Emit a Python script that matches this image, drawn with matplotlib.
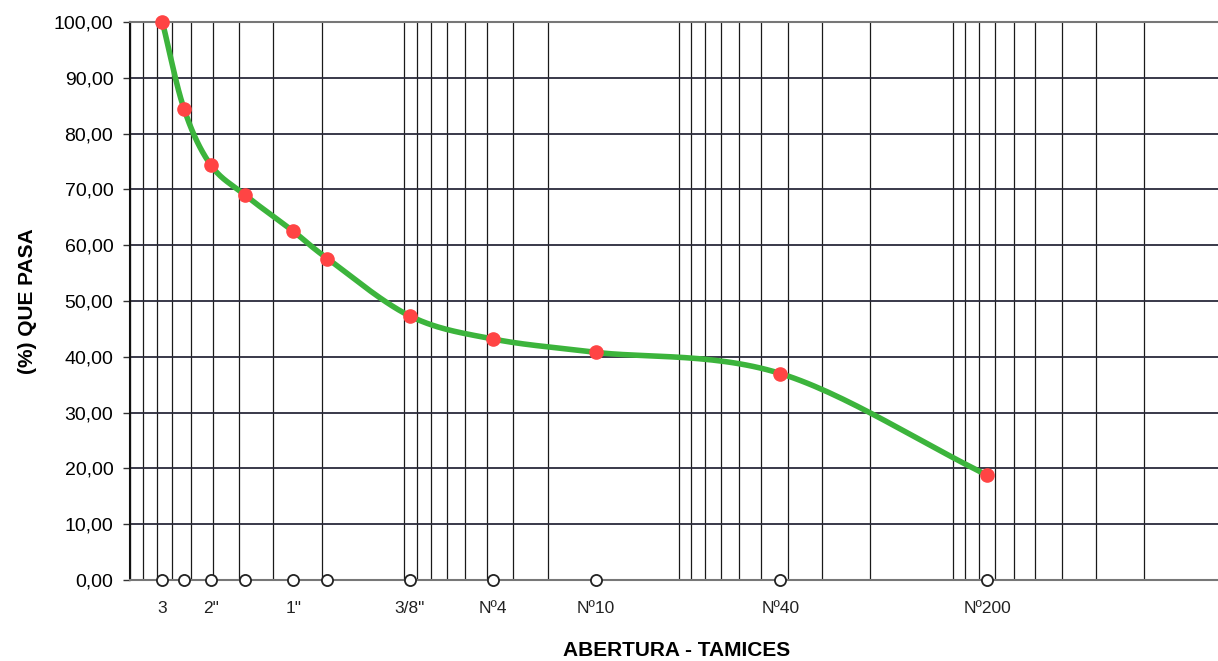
import numpy as np
import matplotlib
matplotlib.use('Agg')
import matplotlib.pyplot as plt
from matplotlib.ticker import FixedLocator, LogLocator, NullFormatter, FuncFormatter

plt.rcParams['font.family'] = ['Liberation Sans', 'DejaVu Sans']

# sieve openings (mm) and % passing
sieve_mm = [76.2, 63.5, 50.8, 38.1, 25.4, 19.05, 9.525, 4.76, 2.0, 0.425, 0.075]
sieve_labels = ['3', '', '2"', '', '1"', '', '3/8"', 'Nº4', 'Nº10', 'Nº40', 'Nº200']
pct_pasa = [100.0, 84.4, 74.4, 69.0, 62.5, 57.6, 47.3, 43.2, 40.8, 37.0, 18.8]

y_ticks = [0, 10, 20, 30, 40, 50, 60, 70, 80, 90, 100]


def smooth(xs, ys, n=30):
    # catmull-rom like excel's smoothed line, done in log-x space
    lx = np.log10(xs)
    ys = np.asarray(ys, float)
    px = np.concatenate([[2 * lx[0] - lx[1]], lx, [2 * lx[-1] - lx[-2]]])
    py = np.concatenate([[2 * ys[0] - ys[1]], ys, [2 * ys[-1] - ys[-2]]])
    outx, outy = [], []
    t = np.linspace(0, 1, n)
    for i in range(1, len(px) - 2):
        for p, out in ((px, outx), (py, outy)):
            p0, p1, p2, p3 = p[i - 1], p[i], p[i + 1], p[i + 2]
            out.extend(0.5 * (2 * p1 + (-p0 + p2) * t
                              + (2 * p0 - 5 * p1 + 4 * p2 - p3) * t ** 2
                              + (-p0 + 3 * p1 - 3 * p2 + p3) * t ** 3))
    return 10 ** np.array(outx), np.array(outy)


fig = plt.figure(figsize=(12.18, 6.61), dpi=100)
ax = fig.add_axes([130 / 1218, 1 - 580 / 661, 1097 / 1218, 558 / 661])

ax.set_xscale('log')
ax.set_xlim(100, 0.01)
ax.set_ylim(0, 100)

# log grid (vertical) and 10% grid (horizontal)
ax.xaxis.set_major_locator(FixedLocator(sieve_mm))
ax.xaxis.set_minor_locator(LogLocator(base=10, subs=np.arange(1, 10), numticks=50))
ax.xaxis.set_minor_formatter(NullFormatter())
ax.grid(True, which='minor', axis='x', color='#1a1a1a', lw=0.9)
ax.set_yticks(y_ticks)
ax.grid(True, which='major', axis='y', color='#2a2a3a', lw=1.3)
ax.set_axisbelow(True)

ax.set_xticks(sieve_mm)
ax.set_xticklabels(sieve_labels, fontsize=12.5, color='#222222')
ax.tick_params(axis='x', which='both', length=0, pad=15)
ax.yaxis.set_major_formatter(FuncFormatter(lambda v, p: ('%.2f' % v).replace('.', ',')))
ax.tick_params(axis='y', labelsize=14, length=5, width=1, pad=7, color='#333333')

for s in ['top', 'bottom']:
    ax.spines[s].set_color('#777777')
    ax.spines[s].set_linewidth(1.5)
ax.spines['left'].set_color('#111111')
ax.spines['left'].set_linewidth(1.5)
ax.spines['right'].set_visible(False)

sx, sy = smooth(sieve_mm, pct_pasa)
ax.plot(sx, sy, color='#3cb43c', lw=4, zorder=3)
ax.plot(sieve_mm, pct_pasa, 'o', color='#ff4444', ms=9.5, mec='#ff4444', zorder=4, clip_on=False)
ax.plot(sieve_mm, [0] * len(sieve_mm), 'o', mfc='white', mec='#222222', mew=1.3, ms=8,
        zorder=5, clip_on=False)

ax.set_ylabel('(%) QUE PASA', fontsize=15, fontweight='bold', labelpad=12)
fig.text(677 / 1218, 1 - 650 / 661, 'ABERTURA - TAMICES', fontsize=15, fontweight='bold',
         ha='center', va='center')

fig.savefig('out.png', dpi=100)
